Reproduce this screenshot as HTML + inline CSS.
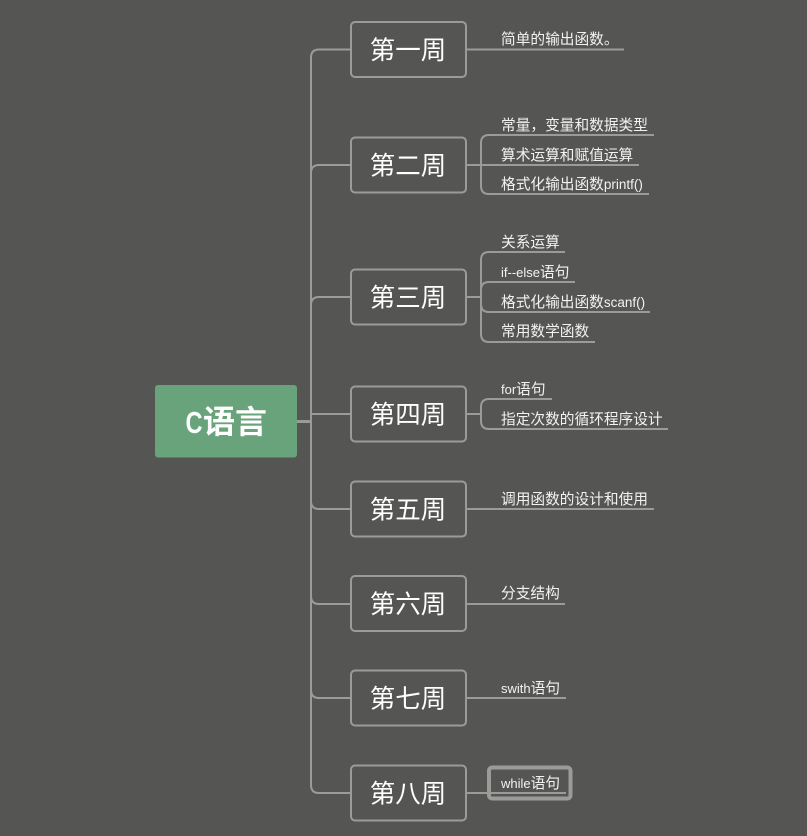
<!DOCTYPE html>
<html><head><meta charset="utf-8"><style>
html,body{margin:0;padding:0;background:#555653;width:807px;height:836px;overflow:hidden}
svg{display:block}
text{font-family:"Liberation Sans","Noto Sans CJK SC",sans-serif;fill:#f2f2f0}
.w{font-size:25.500px;text-anchor:middle;fill:#fff}
.l{font-size:14.700px}
.e{font-size:13px}
.p{font-size:13.500px}
.c{fill:none;stroke:#9a9c98;stroke-width:2}
.b{fill:#555653;stroke:#9a9c98;stroke-width:2}
</style></head><body>
<svg width="807" height="836" viewBox="0 0 807 836" xmlns="http://www.w3.org/2000/svg">
<path class="c" d="M351 49.500H319Q311 49.500 311 57.500V785Q311 793 319 793H351M311 173Q311 165 319 165H351M311 305Q311 297 319 297H351M311 414H351M311 501Q311 509 319 509H351M311 596Q311 604 319 604H351M311 690Q311 698 319 698H351"/>
<path d="M297 421.500H311" fill="none" stroke="#9a9c98" stroke-width="3"/>
<path class="c" d="M466 49.500H624M466 165H639M489 135H654M489 194H649M481 165V143Q481 135 489 135M481 165V186Q481 194 489 194"/>
<path class="c" d="M466 297H481M489 252H565M489 282H575M489 312H650M489 342H595M481 260Q481 252 489 252M481 290Q481 282 489 282M481 304Q481 312 489 312M481 334Q481 342 489 342M481 260V334"/>
<path class="c" d="M466 414H481M489 399H552M489 429H668M481 407Q481 399 489 399M481 421Q481 429 489 429M481 407V421"/>
<path class="c" d="M466 509H654M466 604H565M466 698H566M466 793H566"/>
<rect x="489" y="767.500" width="81.500" height="31" rx="3" fill="none" stroke="#9a9c98" stroke-width="4"/>
<rect x="155" y="385" width="142" height="72.500" rx="3" fill="#69a37b"/>
<text transform="translate(185.500,433) scale(.76,1)" font-size="31" font-weight="700" style="fill:#fff">C</text>
<text x="203" y="433" font-size="32" font-weight="700" style="fill:#fff">语言</text>
<rect class="b" x="351" y="22" width="115" height="55" rx="4"/>
<rect class="b" x="351" y="137.500" width="115" height="55" rx="4"/>
<rect class="b" x="351" y="269.500" width="115" height="55" rx="4"/>
<rect class="b" x="351" y="386.500" width="115" height="55" rx="4"/>
<rect class="b" x="351" y="481.500" width="115" height="55" rx="4"/>
<rect class="b" x="351" y="576" width="115" height="55" rx="4"/>
<rect class="b" x="351" y="670.500" width="115" height="55" rx="4"/>
<rect class="b" x="351" y="765.500" width="115" height="55" rx="4"/>
<text class="w" x="408" y="59">第一周</text>
<text class="w" x="408" y="174.500">第二周</text>
<text class="w" x="408" y="306.500">第三周</text>
<text class="w" x="408" y="423.500">第四周</text>
<text class="w" x="408" y="518.500">第五周</text>
<text class="w" x="408" y="613">第六周</text>
<text class="w" x="408" y="707.500">第七周</text>
<text class="w" x="408" y="802.500">第八周</text>
<text class="l" x="501" y="44">简单的输出函数。</text>
<text class="l" x="501" y="130">常量，变量和数据类型</text>
<text class="l" x="501" y="160">算术运算和赋值运算</text>
<text class="l" x="501" y="189">格式化输出函数<tspan class="p">printf()</tspan></text>
<text class="l" x="501" y="247">关系运算</text>
<text class="l" x="501" y="277"><tspan class="e">if--else</tspan>语句</text>
<text class="l" x="501" y="307">格式化输出函数<tspan class="p">scanf()</tspan></text>
<text class="l" x="501" y="336">常用数学函数</text>
<text class="l" x="501" y="394"><tspan class="e">for</tspan>语句</text>
<text class="l" x="501" y="424">指定次数的循环程序设计</text>
<text class="l" x="501" y="504">调用函数的设计和使用</text>
<text class="l" x="501" y="598">分支结构</text>
<text class="l" x="501" y="693"><tspan class="e">swith</tspan>语句</text>
<text class="l" x="501" y="788"><tspan class="e">while</tspan>语句</text>
</svg>
</body></html>
